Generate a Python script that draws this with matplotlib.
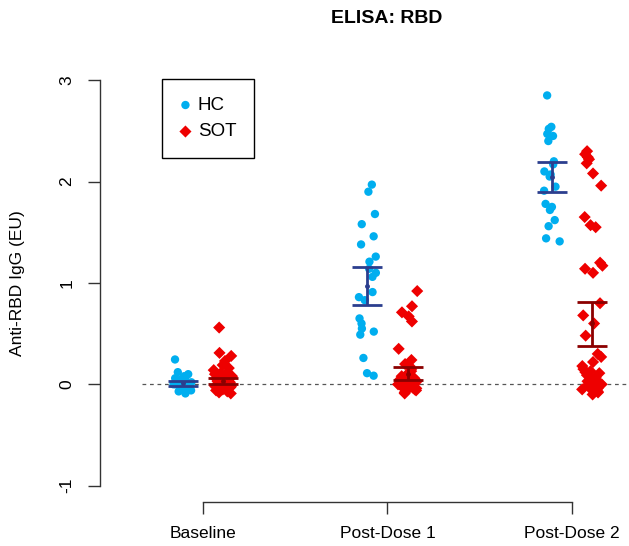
import numpy as np
import matplotlib.pyplot as plt

plt.rcParams['font.family'] = ['Liberation Sans', 'DejaVu Sans']

timepoints = ['Baseline', 'Post-Dose 1', 'Post-Dose 2']

hc_baseline = [0.245, 0.12, 0.10, 0.08, 0.06, 0.05, 0.04, 0.02, 0.01, 0.0, -0.01,
               -0.02, -0.03, -0.04, -0.05, -0.06, -0.07, -0.09, 0.03, -0.01, 0.0, 0.02]
hc_dose1 = [1.97, 1.90, 1.68, 1.58, 1.46, 1.38, 1.26, 1.21, 1.14, 1.10, 1.06,
            0.91, 0.86, 0.83, 0.65, 0.60, 0.55, 0.52, 0.49, 0.26, 0.11, 0.085]
hc_dose2 = [2.85, 2.54, 2.52, 2.47, 2.45, 2.40, 2.20, 2.17, 2.10, 2.07, 2.05,
            1.95, 1.91, 1.78, 1.75, 1.72, 1.62, 1.56, 1.44, 1.41]

sot_baseline = [0.56, 0.31, 0.28, 0.23, 0.19, 0.16, 0.14, 0.12, 0.11, 0.10, 0.09,
                0.08, 0.07, 0.06, 0.05, 0.04, 0.04, 0.03, 0.02, 0.02, 0.01, 0.0,
                0.0, -0.01, -0.02, -0.02, -0.03, -0.04, -0.05, -0.06, -0.07, -0.08,
                -0.09, 0.01, -0.01, 0.03, 0.0, -0.03, 0.05, -0.04]
sot_dose1 = [0.92, 0.77, 0.71, 0.67, 0.62, 0.35, 0.24, 0.20, 0.18, 0.15, 0.13,
             0.11, 0.09, 0.08, 0.07, 0.05, 0.04, 0.03, 0.02, 0.01, 0.0, -0.01,
             -0.02, -0.03, -0.04, -0.05, -0.06, -0.07, -0.08, -0.09, 0.02, 0.0,
             -0.02, -0.04, 0.01, -0.01, 0.03, -0.05, -0.03, 0.0, 0.06]
sot_dose2 = [2.30, 2.27, 2.24, 2.22, 2.18, 2.08, 1.96, 1.65, 1.57, 1.55, 1.20,
             1.17, 1.14, 1.10, 0.80, 0.68, 0.60, 0.48, 0.30, 0.27, 0.22, 0.18,
             0.15, 0.13, 0.11, 0.09, 0.07, 0.05, 0.03, 0.02, 0.0, -0.02, -0.04,
             -0.06, -0.08, -0.10, 0.12, 0.04, 0.01, -0.03, 0.0, -0.05, 0.08,
             -0.07, 0.02]

hc_mid = [0.01, 0.97, 2.045]
hc_lo = [-0.015, 0.779, 1.90]
hc_hi = [0.035, 1.154, 2.19]
sot_mid = [0.033, 0.105, 0.60]
sot_lo = [0.0, 0.042, 0.38]
sot_hi = [0.065, 0.168, 0.815]

hc_col = '#00AEEF'
sot_col = '#EE0000'
hc_bar = '#2B3E8E'
sot_bar = '#8B0000'

W, H = 629, 546
fig = plt.figure(figsize=(W / 100, H / 100), dpi=100)
ax = fig.add_axes([100 / W, 44 / H, (W - 100) / W, (502 - 64) / H])
ax.set_xlim(0.442, 3.309)
ax.set_ylim(-1.161, 3.16)

rng = np.random.default_rng(3)
off = 0.11
hc_groups = [hc_baseline, hc_dose1, hc_dose2]
sot_groups = [sot_baseline, sot_dose1, sot_dose2]

# zero reference
ax.hlines(0, 0.669, 3.309, colors='#555555', linestyles=(0, (3, 3)), lw=0.9, zorder=1)

for i in range(3):
    xc = i + 1
    hv = np.array(hc_groups[i])
    sv = np.array(sot_groups[i])
    ax.scatter(xc - off + rng.uniform(-0.05, 0.05, len(hv)), hv, s=36,
               marker='o', color=hc_col, edgecolors='none', zorder=2,
               label='HC' if i == 0 else None)
    ax.scatter(xc + off + rng.uniform(-0.055, 0.055, len(sv)), sv, s=38,
               marker='D', color=sot_col, edgecolors='none', zorder=2,
               label='SOT' if i == 0 else None)

    # error bars
    for x0, mid, lo, hi, c in [(xc - off, hc_mid[i], hc_lo[i], hc_hi[i], hc_bar),
                               (xc + off, sot_mid[i], sot_lo[i], sot_hi[i], sot_bar)]:
        ax.vlines(x0, lo, hi, colors=c, lw=2, zorder=3)
        ax.hlines([lo, hi], x0 - 0.081, x0 + 0.081, colors=c, lw=2, zorder=3)
        ax.plot(x0, mid, 'o', color=c, ms=2.5, zorder=3)

for s in ['top', 'right']:
    ax.spines[s].set_visible(False)
ax.spines['left'].set_bounds(-1, 3)
ax.spines['bottom'].set_bounds(1, 3)
ax.spines['left'].set_linewidth(1)
ax.spines['bottom'].set_linewidth(1)
ax.spines['left'].set_color('#333333')
ax.spines['bottom'].set_color('#333333')

ax.set_yticks([-1, 0, 1, 2, 3])
ax.set_yticklabels(['-1', '0', '1', '2', '3'], rotation=90, va='center')
ax.set_xticks([1, 2, 3])
ax.set_xticklabels(timepoints)
ax.tick_params(axis='both', direction='out', length=8.5, width=1,
               color='#333333', labelsize=12.5)
ax.tick_params(axis='y', pad=10)
ax.tick_params(axis='x', pad=8.5)

fig.text(18 / W, 1 - 283 / H, 'Anti-RBD IgG (EU)', rotation=90,
         ha='center', va='center', fontsize=12.5)
fig.text(386.5 / W, 1 - 18.5 / H, 'ELISA: RBD', ha='center', va='center',
         fontsize=14, fontweight='bold')

leg = ax.legend(loc='upper left', bbox_to_anchor=(162 / W, 1 - 79 / H),
                bbox_transform=fig.transFigure, borderaxespad=0,
                fancybox=False, edgecolor='black', fontsize=13.5,
                handletextpad=0.35, handlelength=0.6, labelspacing=0.5,
                borderpad=0.95, framealpha=1)
leg.get_frame().set_linewidth(1)

fig.savefig('out.png', dpi=100)
